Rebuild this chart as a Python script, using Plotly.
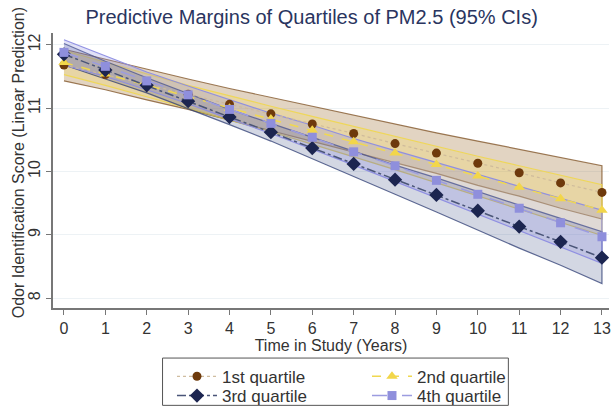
import plotly.graph_objects as go

# Years in study
years = list(range(14))

# Predictive margins (linear prediction) by PM2.5 quartile
q1_mean = [11.68, 11.53, 11.37, 11.22, 11.06, 10.91, 10.75, 10.60, 10.44, 10.29, 10.13, 9.98, 9.82, 9.67]
q2_mean = [11.72, 11.54, 11.36, 11.18, 11.00, 10.83, 10.65, 10.47, 10.29, 10.11, 9.93, 9.75, 9.57, 9.39]
q3_mean = [11.85, 11.60, 11.36, 11.11, 10.86, 10.62, 10.37, 10.12, 9.87, 9.63, 9.38, 9.13, 8.89, 8.64]
q4_mean = [11.88, 11.66, 11.43, 11.21, 10.98, 10.76, 10.54, 10.31, 10.09, 9.86, 9.64, 9.42, 9.19, 8.97]

# 95% confidence limits
q1_lo = [11.43, 11.29, 11.13, 10.98, 10.81, 10.65, 10.48, 10.31, 10.14, 9.97, 9.78, 9.61, 9.42, 9.25]
q1_hi = [11.93, 11.77, 11.61, 11.46, 11.31, 11.17, 11.02, 10.89, 10.74, 10.61, 10.48, 10.35, 10.22, 10.09]
q2_lo = [11.53, 11.36, 11.18, 11.00, 10.81, 10.63, 10.43, 10.23, 10.03, 9.82, 9.62, 9.41, 9.20, 8.99]
q2_hi = [11.91, 11.72, 11.54, 11.36, 11.19, 11.03, 10.87, 10.71, 10.55, 10.40, 10.24, 10.09, 9.94, 9.79]
q3_lo = [11.68, 11.46, 11.24, 10.99, 10.74, 10.48, 10.20, 9.92, 9.64, 9.36, 9.08, 8.79, 8.52, 8.23]
q3_hi = [12.02, 11.74, 11.48, 11.23, 10.98, 10.76, 10.54, 10.32, 10.10, 9.90, 9.68, 9.47, 9.26, 9.05]
q4_lo = [11.68, 11.50, 11.29, 11.07, 10.83, 10.60, 10.35, 10.10, 9.85, 9.58, 9.33, 9.07, 8.81, 8.55]
q4_hi = [12.08, 11.82, 11.57, 11.35, 11.13, 10.92, 10.73, 10.52, 10.33, 10.14, 9.95, 9.77, 9.57, 9.39]

labels = ["1st quartile", "2nd quartile", "3rd quartile", "4th quartile"]
x_ticks = list(range(14))
y_ticks = [8, 9, 10, 11, 12]

series = [
    dict(name=labels[0], mean=q1_mean, lo=q1_lo, hi=q1_hi, legend="legend",
         fill="rgba(150,100,35,0.28)", edge="rgba(125,80,35,0.75)",
         line=dict(color="rgba(205,185,155,0.95)", width=1.2, dash="dot"),
         marker=dict(symbol="circle", size=9, color="#6e3a0c")),
    dict(name=labels[1], mean=q2_mean, lo=q2_lo, hi=q2_hi, legend="legend",
         fill="rgba(245,215,90,0.28)", edge="rgba(240,215,80,0.9)",
         line=dict(color="#f0d850", width=1.5, dash="dash"),
         marker=dict(symbol="triangle-up", size=10, color="#f2d64a")),
    dict(name=labels[2], mean=q3_mean, lo=q3_lo, hi=q3_hi, legend="legend2",
         fill="rgba(35,55,115,0.20)", edge="rgba(45,60,115,0.75)",
         line=dict(color="#4a5578", width=1.5, dash="dashdot"),
         marker=dict(symbol="diamond", size=11, color="#1c2550")),
    dict(name=labels[3], mean=q4_mean, lo=q4_lo, hi=q4_hi, legend="legend2",
         fill="rgba(140,140,225,0.26)", edge="rgba(140,140,225,0.95)",
         line=dict(color="#9c9ce0", width=1.5, dash="longdash"),
         marker=dict(symbol="square", size=9, color="#8f8fdc")),
]

fig = go.Figure()

# Confidence bands as closed polygons
for s in series:
    fig.add_trace(go.Scatter(
        x=years + years[::-1],
        y=s["hi"] + s["lo"][::-1],
        fill="toself", fillcolor=s["fill"],
        line=dict(color=s["edge"], width=1.2),
        mode="lines", hoverinfo="skip", showlegend=False,
    ))

# Margin lines with markers
for s in series:
    fig.add_trace(go.Scatter(
        x=years, y=s["mean"], name=s["name"], legend=s["legend"],
        mode="lines+markers", line=s["line"], marker=s["marker"],
    ))

font_family = "Liberation Sans, Arial, sans-serif"

legend_row = dict(
    orientation="h", xanchor="left", yanchor="middle",
    bgcolor="rgba(0,0,0,0)", borderwidth=0,
    entrywidth=140, entrywidthmode="pixels",
    font=dict(size=17, color="#333333"),
    tracegroupgap=0, itemwidth=40,
)

fig.update_layout(
    width=611, height=414,
    margin=dict(l=53, r=0, t=33, b=101),
    paper_bgcolor="white", plot_bgcolor="white",
    font=dict(family=font_family, size=16, color="#333333"),
    title=dict(text="Predictive Margins of Quartiles of PM2.5 (95% CIs)",
               x=0.51, xanchor="center", y=0.958, yanchor="middle",
               font=dict(family=font_family, size=20, color="#2a3560")),
    xaxis=dict(
        range=[-0.265, 13.17], tickvals=x_ticks, ticktext=[str(v) for v in x_ticks],
        ticklabeloverflow="allow",
        showgrid=False, zeroline=False,
        showline=True, linecolor="#777777", linewidth=1.5,
        ticks="outside", ticklen=5, tickcolor="#777777",
        tickfont=dict(size=16, color="#333333"),
        title=dict(text="Time in Study (Years)", standoff=2,
                   font=dict(size=16, color="#333333")),
    ),
    yaxis=dict(
        range=[7.845, 12.186], tickvals=y_ticks, ticktext=[str(v) for v in y_ticks],
        tickangle=-90,
        showgrid=True, gridcolor="#edf2f5", gridwidth=1, zeroline=False,
        showline=True, linecolor="#777777", linewidth=1.5,
        ticks="outside", ticklen=5, tickcolor="#777777",
        tickfont=dict(size=16, color="#333333"),
    ),
    annotations=[dict(
        text="Odor Identification Score (Linear Prediction)",
        xref="paper", yref="paper", x=-0.063, y=0.53,
        xanchor="center", yanchor="middle", textangle=-90, showarrow=False,
        font=dict(size=16, color="#333333"),
    )],
    # Legend frame
    shapes=[dict(
        type="rect", xref="paper", yref="paper",
        x0=0.197, x1=0.819, y0=-0.354, y1=-0.182,
        line=dict(color="#555555", width=1), fillcolor="white", layer="below",
    )],
    legend=dict(legend_row, x=0.214, y=-0.25),
    legend2=dict(legend_row, x=0.214, y=-0.32),
    showlegend=True,
)

fig.write_html("out.html")
